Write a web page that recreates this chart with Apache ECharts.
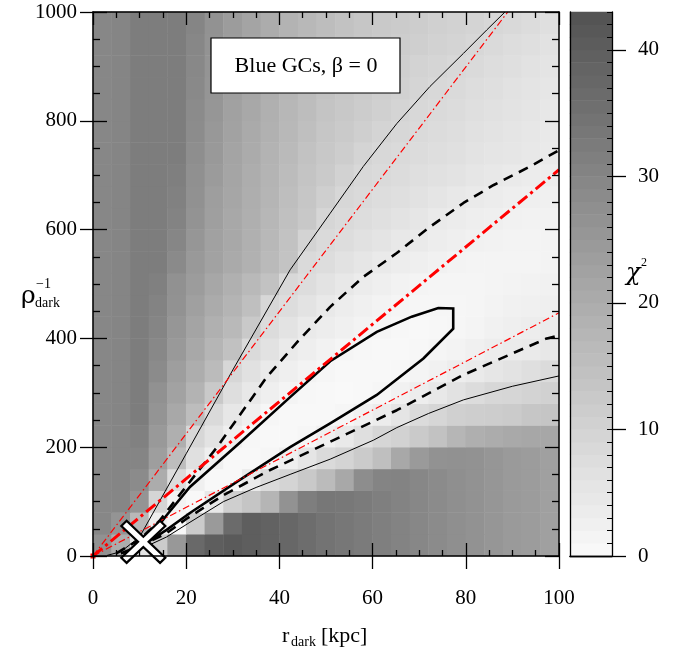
<!DOCTYPE html>
<html><head><meta charset="utf-8">
<script src="https://cdn.jsdelivr.net/npm/echarts/dist/echarts.min.js"></script>
<style>html,body{margin:0;padding:0;background:#fff}#c{width:688px;height:661px}</style>
</head><body><div id="c"></div>
<script>
// grid cell centres
const rCenters = [2,6,10,14,18,22,26,30,34,38,42,46,50,54,58,62,66,70,74,78,82,86,90,94,98];
const rhoCenters = [20,60,100,140,180,220,260,300,340,380,420,460,500,540,580,620,660,700,740,780,820,860,900,940,980];
// chi^2 values, rows from rho=20 (bottom) to rho=980 (top)
const chi2Grid = [
[27,20,6,12,25,37,40,41,40,39,37.5,36,34.5,33.5,32.5,31.5,30.5,29.5,28.5,27.5,26.5,25.5,24.5,24,23],
[29.5,26,17,3,0.8,12,24.5,36.5,40,39,37.5,36,34.5,33.5,32.5,31.5,30.5,29.5,28.5,27.5,26.5,25.5,24.5,24,23],
[29.5,29.8,26,9.5,1.8,0.5,4.5,10.9,13.5,17.7,26.7,31.7,33.5,33.3,32.5,31.5,30.5,29.5,28.5,27.5,26.5,25.5,24.5,24,23],
[29.5,30,28.5,20,7.6,2.5,0.6,0.6,4.2,7.9,9.6,12.5,16,21,28,30.2,30.5,29.5,28.5,27.5,26.5,25.5,24.5,24,23],
[29.5,30,30,23.5,15.5,6.6,2.7,0.6,0.4,0.9,2.8,5.3,8.1,9.8,12,15.1,21,24.6,26.6,27,26.5,25.5,24.5,24,23],
[29.5,30,31,24.8,19.2,9,5.8,2.9,0.8,0.5,0.5,0.9,2.6,4.3,6.9,9.2,10.2,12.3,14.3,17.3,19.2,19.9,20.8,21.3,21.3],
[29.5,30,32,26,21.1,15.7,8.1,4.9,2.9,1.1,0.6,0.4,0.4,1.1,2.2,3.6,5.3,8,9.3,10.7,11.3,11.6,12.1,13.2,13.6],
[29.5,30,32,27,22.5,18.3,12.5,7.2,4.6,2.9,1.5,0.8,0.5,0.3,0.5,1.1,2.2,3.4,4.6,6.2,7.7,9,9.3,9.9,10.4],
[29.5,30,32,28.5,23.5,19.8,16.2,9,6.5,4.1,2.9,1.7,0.9,0.5,0.4,0.5,0.8,1.5,2.4,3.2,4.1,5.1,6,7,7.9],
[29.5,30,32,29.3,24.8,21,17.6,14.5,8.2,6.1,4,3.1,2.1,1.2,0.7,0.5,0.5,0.7,1.2,1.9,2.5,3.2,3.9,4.2,4.9],
[29.5,30,32,30,25.7,21.9,19,16.7,12.5,7.7,5.9,4.2,3.3,2.6,1.9,1.2,0.8,0.6,0.7,1.1,1.6,2.2,2.8,3.3,3.8],
[29.5,30,32,30.5,26.5,23,20.2,17.8,15.2,8.9,7.4,5.9,4.4,3.4,2.6,1.9,1.4,1.1,1,1.1,1.4,1.8,2.2,2.5,2.8],
[29.5,30,32,31.3,27,24,21.2,19,16.7,14.3,8.6,7.3,6,4.7,3.7,2.8,2.1,1.6,1.3,1.2,1.3,1.5,1.8,2,2.3],
[29.5,30,32,32,28.6,24.9,22.5,20.6,18.6,16.3,14.2,8.3,7.3,6.2,5.2,4.1,3.3,2.7,2.2,1.8,1.6,1.5,1.5,1.6,1.8],
[29.5,30,32,32,29.7,25.6,22.7,20.9,18.9,16.9,14.4,10,8.3,7.4,6.5,5.6,4.7,4,3.3,2.7,2.3,2,1.8,1.7,1.7],
[29.5,30,32,32,30.5,26.3,23.2,21.1,19.1,17.2,14.9,12.9,9.1,8.2,7.4,6.6,5.8,5,4.2,3.6,3.1,2.7,2.4,2.1,2],
[29.5,30,32,32,31,26.8,23.6,21.4,19.5,17.6,15.4,13.4,11,8.9,8.2,7.5,6.8,6.1,5.4,4.7,4,3.5,3.1,2.8,2.6],
[29.5,30,32,32,31.5,27.2,24.2,21.7,19.8,17.9,15.8,13.8,12.3,10.3,8.8,8.2,7.6,7,6.4,5.8,5.2,4.6,4,3.7,3.4],
[29.5,30,32,32,32,27.6,24.7,22,20.2,18.3,16.3,14.4,12.9,11.6,9.8,8.8,8.2,7.7,7.2,6.6,6,5.5,5,4.5,4.1],
[29.5,30,32,32,32,28.1,25.2,22.5,20.6,18.6,16.8,15,13.4,12.3,11,9.6,8.9,8.3,7.7,7.1,6.5,6,5.4,4.9,4.4],
[29.5,30,32,32,32,28.5,25.6,22.9,21,19,17.2,15.5,13.9,12.9,11.8,10.7,9.6,8.8,8.2,7.6,7,6.4,5.8,5.3,4.8],
[29.5,30,32,32,32,28.8,25.9,23.2,21.4,19.4,17.6,15.9,14.4,13.3,12.3,11.3,10.4,9.5,8.8,8.1,7.4,6.8,6.2,5.7,5.2],
[29.5,30,32,32,32,29.2,26.2,23.5,21.6,19.7,17.9,16.3,14.9,13.7,12.7,11.8,10.9,10.1,9.4,8.8,8.1,7.4,6.8,6.2,5.7],
[29.5,30,32,32,32,29.5,26.4,23.8,21.8,19.9,18.1,16.6,15.3,14,13.1,12.3,11.6,10.9,10.2,9.6,8.9,8.2,7.5,6.8,6.1],
[29.5,30,32,32,32,30,26.5,24,22,20,18.3,16.9,15.7,14.3,13.4,12.6,12,11.4,10.8,10.2,9.6,9,8.4,7.6,6.8]
];
// colour bar levels
const cbLevels = [0.5,1.5,2.5,3.5,4.5,5.5,6.5,7.5,8.5,9.5,10.5,11.5,12.5,13.5,14.5,15.5,16.5,17.5,18.5,19.5,20.5,21.5,22.5,23.5,24.5,25.5,26.5,27.5,28.5,29.5,30.5,31.5,32.5,33.5,34.5,35.5,36.5,37.5,38.5,39.5,40.5,41.5,42.5];
const cbTicks = [0,10,20,30,40];
// contour lines [r_dark, rho^-1]
const thinUpper = [[3,1],[6,8],[10,35],[20,188],[30,342],[42.3,526],[50.9,630],[58,716],[65.2,795],[72.3,863],[79.5,924],[84.5,967],[88.4,1000]];
const thinLower = [[6,4],[10,12],[15.8,35],[20.8,62],[28,100],[35,126],[42.3,150],[50.9,178],[60.2,213],[65.2,236],[72,262],[79.5,287],[90,312],[100,331]];
const dashUpper = [[5,5],[10,30],[14.4,66],[20,128],[26.6,200],[32,265],[37.3,329],[44,395],[50.9,458],[58,513],[65.2,557],[72,603],[79.5,649],[86,682],[93.8,716],[100,746]];
const dashLower = [[6,5],[10,18],[15.8,42],[20,68],[28,112],[38,158],[50.9,210],[65.2,268],[79.5,333],[97.4,400],[100,405]];
const thickContour = [[11,22],[15.8,75],[20.8,127],[31.5,208],[42.3,292],[50.9,358],[60.9,412],[68.4,440],[74.1,456],[77.3,455],[77.3,418],[70.9,363],[60.9,296],[50.9,244],[42.3,200],[31.5,140],[20.8,79],[15.8,48],[11,22]];
const redUpper = [[0,0],[89,1000]];
const redMid = [[0,0],[100,710]];
const redLower = [[0,0],[100,447]];
const bestFit = [[10.8,26]];
const origin = [[0,0]];

const FONT = "'Liberation Serif','Times New Roman',serif";
const heatData = [];
for (let j = 0; j < rhoCenters.length; j++)
  for (let i = 0; i < rCenters.length; i++) heatData.push([i, j, chi2Grid[j][i]]);
const cbData = cbLevels.map((v, i) => [0, i, v]);

const blk = {color:'#000', width:1.3};
const plain = v => String(v);
const chart = echarts.init(document.getElementById('c'), null, {renderer:'canvas'});
chart.setOption({
  animation:false,
  backgroundColor:'#fff',
  grid:[{left:93, top:12, width:466, height:544},{left:570, top:12, width:42, height:544}],
  visualMap:{type:'continuous', show:false, min:0, max:43, seriesIndex:[0,1], inRange:{color:['#fafafa','#525252']}},
  xAxis:[
    {gridIndex:0, type:'category', data:rCenters, show:false},
    {gridIndex:0, type:'value', min:0, max:100, interval:20, position:'bottom', z:6,
     axisLine:{show:true, lineStyle:{color:'#000', width:1.5}},
     axisTick:{show:true, inside:false, length:13, lineStyle:blk},
     axisLabel:{margin:32, fontSize:21, fontFamily:FONT, color:'#000', formatter:plain}, splitLine:{show:false}},
    {gridIndex:0, type:'value', min:0, max:100, interval:20, position:'bottom', z:6,
     axisLine:{show:false}, axisTick:{show:true, inside:true, length:13, lineStyle:blk},
     minorTick:{show:true, splitNumber:4, length:6, lineStyle:blk},
     axisLabel:{show:false}, splitLine:{show:false}},
    {gridIndex:0, type:'value', min:0, max:100, interval:20, position:'top', z:6,
     axisLine:{show:true, lineStyle:{color:'#000', width:1.5}},
     axisTick:{show:true, inside:true, length:13, lineStyle:blk},
     minorTick:{show:true, splitNumber:4, length:6, lineStyle:blk},
     axisLabel:{show:false}, splitLine:{show:false}},
    {gridIndex:1, type:'category', data:['c'], position:'bottom', z:6,
     axisLine:{show:true, lineStyle:{color:'#000', width:1.3}}, axisTick:{show:false}, axisLabel:{show:false}},
    {gridIndex:1, type:'category', data:['c'], position:'top', z:6,
     axisLine:{show:true, lineStyle:{color:'#000', width:1.3}}, axisTick:{show:false}, axisLabel:{show:false}}
  ],
  yAxis:[
    {gridIndex:0, type:'category', data:rhoCenters, show:false},
    {gridIndex:0, type:'value', min:0, max:1000, interval:200, position:'left', z:6,
     axisLine:{show:true, lineStyle:{color:'#000', width:1.5}},
     axisTick:{show:true, inside:false, length:13, lineStyle:blk},
     axisLabel:{margin:16, fontSize:21, fontFamily:FONT, color:'#000', formatter:plain}, splitLine:{show:false}},
    {gridIndex:0, type:'value', min:0, max:1000, interval:200, position:'left', z:6,
     axisLine:{show:false}, axisTick:{show:true, inside:true, length:14, lineStyle:blk},
     minorTick:{show:true, splitNumber:4, length:7, lineStyle:blk},
     axisLabel:{show:false}, splitLine:{show:false}},
    {gridIndex:0, type:'value', min:0, max:1000, interval:200, position:'right', z:6,
     axisLine:{show:true, lineStyle:{color:'#000', width:1.5}},
     axisTick:{show:true, inside:true, length:14, lineStyle:blk},
     minorTick:{show:true, splitNumber:4, length:7, lineStyle:blk},
     axisLabel:{show:false}, splitLine:{show:false}},
    {gridIndex:1, type:'category', data:cbLevels, position:'left', z:6,
     axisLine:{show:true, lineStyle:{color:'#000', width:1.3}}, axisTick:{show:false}, axisLabel:{show:false}},
    {gridIndex:1, type:'value', min:0, max:43, position:'right', z:6,
     axisLine:{show:true, lineStyle:{color:'#000', width:1.3}},
     axisTick:{show:true, inside:false, length:14, customValues:cbTicks, lineStyle:blk},
     axisLabel:{margin:26, fontSize:21, fontFamily:FONT, color:'#000', customValues:cbTicks, formatter:plain}, splitLine:{show:false}},
    {gridIndex:1, type:'value', min:0, max:43, interval:1, position:'right', z:6,
     axisLine:{show:false}, axisTick:{show:true, inside:true, length:5, lineStyle:{color:'#000', width:1}},
     axisLabel:{show:false}, splitLine:{show:false}}
  ],
  series:[
    {type:'heatmap', xAxisIndex:0, yAxisIndex:0, data:heatData, z:1, emphasis:{disabled:true}, progressive:0},
    {type:'heatmap', xAxisIndex:4, yAxisIndex:4, data:cbData, z:1, emphasis:{disabled:true}},
    {type:'line', xAxisIndex:1, yAxisIndex:1, data:thinUpper, showSymbol:false, z:3, lineStyle:{color:'#000', width:1}},
    {type:'line', xAxisIndex:1, yAxisIndex:1, data:thinLower, showSymbol:false, z:3, lineStyle:{color:'#000', width:1}},
    {type:'line', xAxisIndex:1, yAxisIndex:1, data:dashUpper, showSymbol:false, z:3, lineStyle:{color:'#000', width:2.6, type:[10,7]}},
    {type:'line', xAxisIndex:1, yAxisIndex:1, data:dashLower, showSymbol:false, z:3, lineStyle:{color:'#000', width:2.6, type:[10,7]}},
    {type:'line', xAxisIndex:1, yAxisIndex:1, data:thickContour, showSymbol:false, z:3, lineStyle:{color:'#000', width:2.6, join:'miter'}},
    {type:'line', xAxisIndex:1, yAxisIndex:1, data:redUpper, showSymbol:false, z:4, lineStyle:{color:'#ff0000', width:1.2, type:[7,3,1.5,3]}},
    {type:'line', xAxisIndex:1, yAxisIndex:1, data:redMid, showSymbol:false, z:4, lineStyle:{color:'#ff0000', width:3, type:[12,4,3,4]}},
    {type:'line', xAxisIndex:1, yAxisIndex:1, data:redLower, showSymbol:false, z:4, lineStyle:{color:'#ff0000', width:1.2, type:[7,3,1.5,3]}},
    {type:'scatter', xAxisIndex:1, yAxisIndex:1, data:origin, z:4, symbol:'rect', symbolSize:5, itemStyle:{color:'#ff0000', opacity:1}},
    {type:'scatter', xAxisIndex:1, yAxisIndex:1, data:bestFit, z:5, clip:false,
     symbol:'path://M0,12 L12,0 L50,38 L88,0 L100,12 L62,50 L100,88 L88,100 L50,62 L12,100 L0,88 L38,50 Z',
     symbolSize:[44,42], itemStyle:{color:'#ffffff', opacity:1, borderColor:'#000', borderWidth:2.2}}
  ],
  graphic:[
    {type:'rect', z:20, shape:{x:211, y:38, width:189, height:55}, style:{fill:'#fff', stroke:'#000', lineWidth:1.2}},
    {type:'text', z:21, x:306, y:66, style:{text:'Blue GCs, \u03b2 = 0', font:"22px 'Liberation Serif'", fill:'#000', align:'center', verticalAlign:'middle', textAlign:'center', textVerticalAlign:'middle'}},
    {type:'text', z:21, x:21, y:296, style:{text:'\u03c1', font:"25px 'DejaVu Serif'", fill:'#000', verticalAlign:'middle', textVerticalAlign:'middle'}},
    {type:'text', z:21, x:36, y:284, style:{text:'\u22121', font:"14px 'Liberation Serif'", fill:'#000', verticalAlign:'middle', textVerticalAlign:'middle'}},
    {type:'text', z:21, x:35, y:303, style:{text:'dark', font:"14px 'Liberation Serif'", fill:'#000', verticalAlign:'middle', textVerticalAlign:'middle'}},
    {type:'text', z:21, x:282, y:636, style:{text:'r', font:"22px 'Liberation Serif'", fill:'#000', verticalAlign:'middle', textVerticalAlign:'middle'}},
    {type:'text', z:21, x:291, y:642, style:{text:'dark', font:"14px 'Liberation Serif'", fill:'#000', verticalAlign:'middle', textVerticalAlign:'middle'}},
    {type:'text', z:21, x:321, y:636, style:{text:'[kpc]', font:"22px 'Liberation Serif'", fill:'#000', verticalAlign:'middle', textVerticalAlign:'middle'}},
    {type:'text', z:21, x:626, y:274, style:{text:'\u03c7', font:"italic 24px 'DejaVu Serif'", fill:'#000', verticalAlign:'middle', textVerticalAlign:'middle'}},
    {type:'text', z:21, x:641, y:263, style:{text:'2', font:"12px 'Liberation Serif'", fill:'#000', verticalAlign:'middle', textVerticalAlign:'middle'}}
  ]
});
</script></body></html>
